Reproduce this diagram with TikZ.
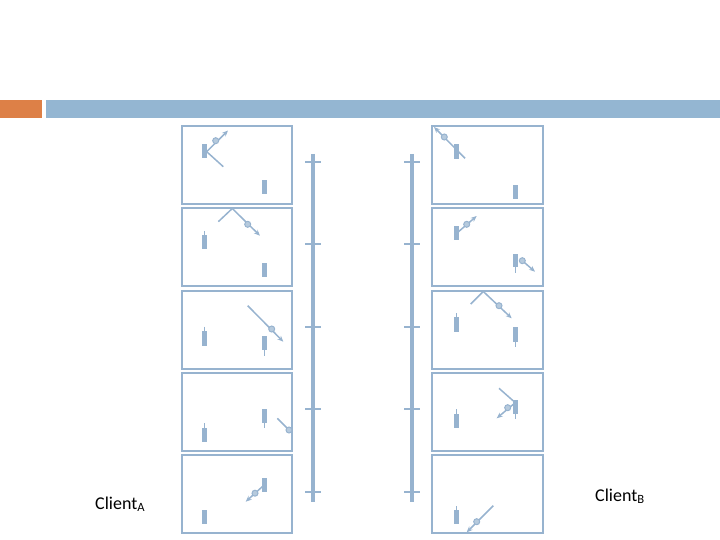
\documentclass[tikz,border=0pt]{standalone}
\usepackage{fontspec}
\usetikzlibrary{arrows.meta}
\setmainfont{Carlito}
\definecolor{barblue}{HTML}{94B6D2}
\definecolor{barorange}{HTML}{DD8047}
\definecolor{seqblue}{HTML}{97B3CF}

\begin{document}
\begin{tikzpicture}[x=1pt,y=-1pt,>={Stealth[length=6pt,width=5pt]},font=\fontsize{18}{21}\selectfont,
		frame/.style={draw=seqblue,line width=1.8pt},
		client/.style={fill=seqblue},
		wick/.style={draw=seqblue,line width=1pt},
		msg/.style={draw=seqblue,line width=1.5pt},
		pkt/.style={draw=seqblue,fill=seqblue!70,line width=1pt}]
	\useasboundingbox (0,0) rectangle (720,540);
	% header band
	\fill[barorange] (0,100) rectangle (42,118);
	\fill[barblue] (46,100) rectangle (720,118);
	% snapshot frames
	\foreach \y in {126,208,291,373,455} {
		\draw[frame] (182,\y) rectangle ++(110,78);
		\draw[frame] (432,\y) rectangle ++(111,78);
	}
	% time lines
	\draw[seqblue,line width=4pt] (313,154) -- (313,502);
	\draw[seqblue,line width=4pt] (412,154) -- (412,502);
	\foreach \t in {162,244,327,409,492} {
		\draw[seqblue,line width=2pt] (305,\t) -- (321,\t);
		\draw[seqblue,line width=2pt] (404,\t) -- (420,\t);
	}
	% left column
	\draw[msg,->] (206.7,151.7) -- (228,130.5);
	\draw[msg] (206.7,151.7) -- (223.3,166.7);
	\draw[pkt] (215.7,140.7) circle (3);
	\fill[client] (202.3,144) rectangle (206.7,158.3);
	\fill[client] (262.3,180) rectangle (266.7,194);

	\draw[msg] (218.3,221.7) -- (232.3,208.5);
	\draw[msg,->] (232.3,208.5) -- (260,235.7);
	\draw[pkt] (247.7,224.3) circle (3);
	\draw[wick] (204.5,231) -- (204.5,236);
	\fill[client] (202.3,235) rectangle (206.7,249.3);
	\fill[client] (262.3,263.3) rectangle (266.7,277.3);

	\draw[msg,->] (247.7,305.7) -- (283.3,341.7);
	\draw[pkt] (271.7,329) circle (3);
	\draw[wick] (204.5,326.7) -- (204.5,332);
	\fill[client] (202.3,331) rectangle (206.7,345.7);
	\draw[wick] (264.5,349) -- (264.5,355.7);
	\fill[client] (262.3,336) rectangle (266.7,350);

	\draw[wick] (204.5,423.3) -- (204.5,429);
	\fill[client] (202.3,428.3) rectangle (206.7,441.7);
	\draw[wick] (264.5,422) -- (264.5,428.3);
	\fill[client] (262.3,409.3) rectangle (266.7,423.3);
	\draw[msg] (277.3,418.3) -- (289,430);
	\draw[pkt] (289,430) circle (3);

	\fill[client] (202.3,510) rectangle (206.7,524.3);
	\fill[client] (262.3,478.3) rectangle (266.7,492.3);
	\draw[msg,->] (262.3,486.7) -- (245.7,501.7);
	\draw[pkt] (255,493.2) circle (3);
	% right column
	\draw[msg,<-] (434,127) -- (465,158.3);
	\draw[pkt] (444.3,137) circle (3);
	\fill[client] (454.3,144.3) rectangle (458.7,158.7);
	\fill[client] (513.3,184.7) rectangle (517.7,199.3);

	\fill[client] (454.3,226) rectangle (458.7,240);
	\draw[msg,->] (458.5,231.7) -- (476.7,216);
	\draw[pkt] (466.7,224.3) circle (3);
	\draw[wick] (515.5,266) -- (515.5,272.7);
	\fill[client] (513.3,254) rectangle (517.7,267.3);
	\draw[msg,->] (522.3,260.7) -- (535,271.7);
	\draw[pkt] (522.3,260.7) circle (3);

	\draw[msg] (470.7,304) -- (483.3,291.5);
	\draw[msg,->] (483.3,291.5) -- (511.7,318.3);
	\draw[pkt] (499,305.7) circle (3);
	\draw[wick] (456.5,313.3) -- (456.5,318);
	\fill[client] (454.3,317.3) rectangle (458.7,331.7);
	\draw[wick] (515.5,340) -- (515.5,346.7);
	\fill[client] (513.3,326.7) rectangle (517.7,341.7);

	\draw[wick] (456.5,409.3) -- (456.5,415);
	\fill[client] (454.3,414.3) rectangle (458.7,428.3);
	\draw[msg] (499,388.3) -- (516,403.3);
	\draw[wick] (515.5,413) -- (515.5,419.3);
	\fill[client] (513.3,400) rectangle (517.7,414.3);
	\draw[msg,->] (513.3,404.3) -- (496.7,418.3);
	\draw[pkt] (507.7,407.7) circle (3);

	\draw[wick] (456.5,506) -- (456.5,511);
	\fill[client] (454.3,510) rectangle (458.7,524.3);
	\draw[msg,->] (493.3,505.7) -- (466.7,532.3);
	\draw[pkt] (476.7,521.7) circle (3);
	% labels
	\node[anchor=base west,inner sep=0pt] (clientA) at (95,509) {Client\textsubscript{A}};
	\node[anchor=base west,inner sep=0pt] (clientB) at (595,501) {Client\textsubscript{B}};
\end{tikzpicture}
\end{document}
